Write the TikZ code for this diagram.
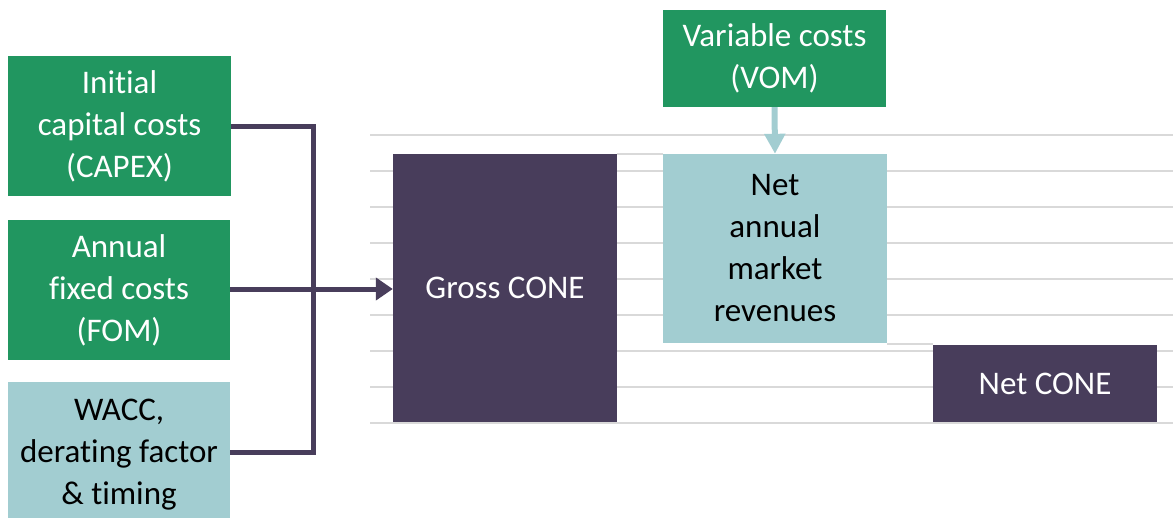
\documentclass[tikz,border=0pt]{standalone}
\usepackage{fontspec}
\setmainfont{Carlito}[Ligatures={NoCommon}]
\usetikzlibrary{arrows.meta}
\definecolor{cgreen}{RGB}{33,150,96}
\definecolor{cpurple}{RGB}{72,61,91}
\definecolor{cblue}{RGB}{162,205,209}
\definecolor{cgrid}{RGB}{217,217,217}
\tikzset{
  box/.style={rectangle, inner sep=0pt, align=center, font=\fontsize{33}{42}\selectfont},
  greenbox/.style={box, fill=cgreen, text=white},
  bluebox/.style={box, fill=cblue, text=black},
  purplebox/.style={box, fill=cpurple, text=white},
  conn/.style={draw=cpurple, line width=5pt},
  grid line/.style={draw=cgrid, line width=2pt},
  wf/.style={draw=cgrid, line width=1.5pt},
}
\begin{document}
\begin{tikzpicture}[x=1pt,y=-1pt]
\useasboundingbox (0,0) rectangle (1173,517);
\clip (0,0) rectangle (1173,517);
% grid lines
\foreach \k in {0,...,8} {
  \draw[grid line] (370,135+36*\k) -- (1173,135+36*\k);
}
% left boxes
\node[greenbox, minimum width=223pt, minimum height=140pt] (capex) at (119.5,126) {Initial\\capital costs\\(CAPEX)};
\node[greenbox, minimum width=222pt, minimum height=140pt] (fom) at (119,290) {Annual\\fixed costs\\(FOM)};
\node[bluebox, minimum width=222pt, minimum height=146pt] (wacc) at (119,455) {WACC,\\derating factor\\\& timing};
% waterfall
\node[purplebox, minimum width=224pt, minimum height=268pt] (gross) at (505,288) {Gross CONE};
\node[bluebox, minimum width=224pt, minimum height=189pt] (rev) at (775,248.5) {Net\\annual\\market\\revenues};
\node[purplebox, minimum width=224pt, minimum height=77pt] (net) at (1045,383.5) {Net CONE};
\node[greenbox, minimum width=223pt, minimum height=97pt] (vom) at (774.5,58.5) {Variable costs\\(VOM)};
% waterfall connectors
\draw[wf] (gross.north east) -- (rev.north west);
\coordinate (w2) at (887,344);
\draw[wf] (w2) -- (net.west |- w2);
% connectors
\coordinate (j1) at (313,126);
\coordinate (j2) at (313,452);
\draw[conn, line join=miter] (capex.east |- j1) -- (j1) -- (j2) -- (wacc.east |- j2);
\draw[conn, -{Triangle[length=17pt,width=22pt]}] (fom.east |- 0,289) -- (gross.west |- 0,289);
\draw[draw=cblue, line width=6pt, -{Triangle[length=20pt,width=20pt]}] (vom.south) -- (rev.north);
\end{tikzpicture}
\end{document}
